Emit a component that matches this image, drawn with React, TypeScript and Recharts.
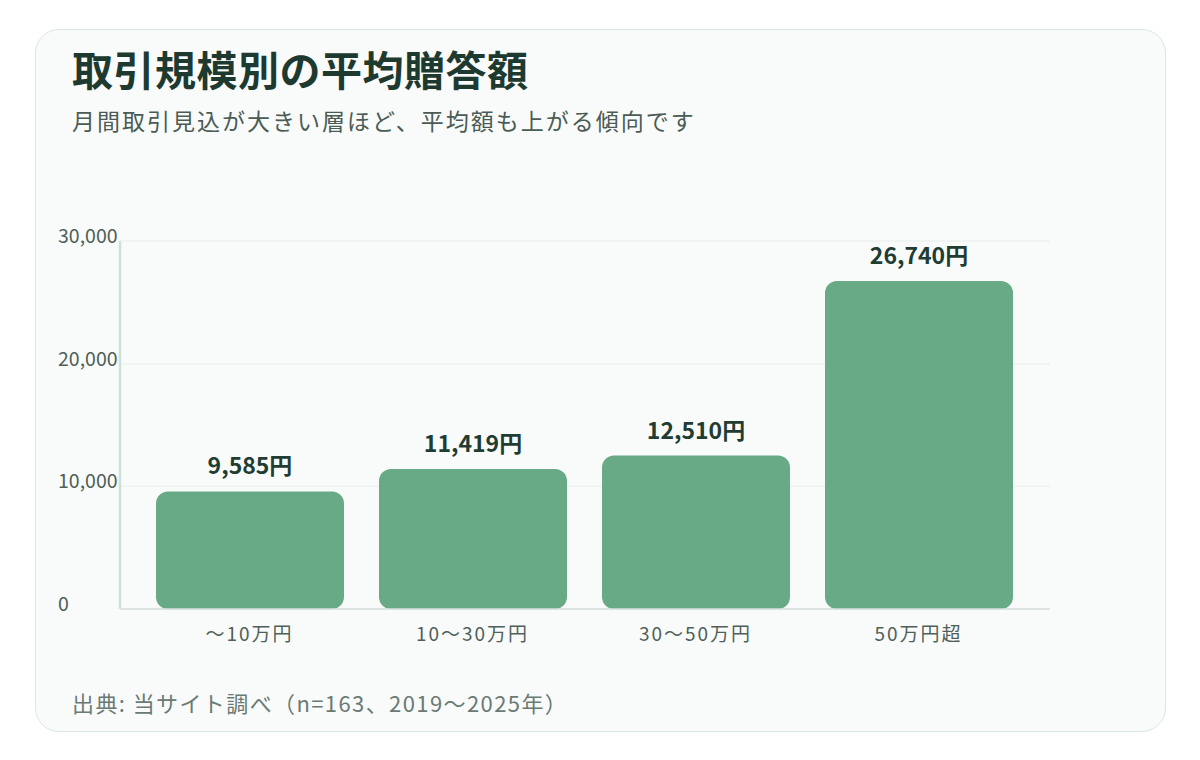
import React from "react";
import { BarChart, Bar, XAxis, YAxis, CartesianGrid, LabelList } from "recharts";

const categories = ["〜10万円", "10〜30万円", "30〜50万円", "50万円超"];
const averageGift = [9585, 11419, 12510, 26740];
const yTicks = [0, 10000, 20000, 30000];

const data = categories.map((c, i) => ({ name: c, value: averageGift[i] }));

const FONT = '"Noto Sans CJK JP", "Noto Sans", sans-serif';

const YTick = (props: any) => {
  const { y, payload } = props;
  return (
    <text x={58} y={y + 2} textAnchor="start" fill="#4f5f59" fontSize={19.5} fontFamily={FONT}>
      {payload.value.toLocaleString("en-US")}
    </text>
  );
};

const XTick = (props: any) => {
  const { x, y, payload } = props;
  return (
    <text x={x} y={y + 16} textAnchor="middle" fill="#4f5f59" fontSize={19} letterSpacing={2} fontFamily={FONT}>
      {payload.value}
    </text>
  );
};

export default function App() {
  return (
    <div style={{ position: "absolute", left: 0, top: 0, width: 1200, height: 760, background: "#ffffff", fontFamily: FONT }}>
      <div
        style={{
          position: "absolute",
          left: 35,
          top: 29,
          width: 1129,
          height: 701,
          border: "1.5px solid #dce6e2",
          borderRadius: 24,
          background: "#f9fbfa",
        }}
      />
      <div style={{ position: "absolute", left: 72, top: 45, fontSize: 41, lineHeight: "46px", fontWeight: 700, color: "#1e3a30", letterSpacing: 0.5 }}>
        取引規模別の平均贈答額
      </div>
      <div style={{ position: "absolute", left: 72, top: 106, fontSize: 23, lineHeight: "28px", color: "#4b5b55", letterSpacing: 2 }}>
        月間取引見込が大きい層ほど、平均額も上がる傾向です
      </div>
      <div style={{ position: "absolute", left: 72, top: 688, fontSize: 22, lineHeight: "28px", color: "#6a7a74", letterSpacing: 1.4 }}>
        出典: 当サイト調べ（n=163、2019〜2025年）
      </div>
      <div style={{ position: "absolute", left: 0, top: 0 }}>
        <BarChart
          width={1200}
          height={760}
          data={data}
          margin={{ top: 241, right: 150, bottom: 121, left: 58 }}
        >
          <CartesianGrid vertical={false} stroke="#edf2f0" strokeWidth={1.5} />
          <XAxis
            dataKey="name"
            height={30}
            axisLine={{ stroke: "#d6e0dc", strokeWidth: 1.5 }}
            tickLine={false}
            tickMargin={10}
            padding={{ left: 18, right: 20 }}
            tick={<XTick />}
          />
          <YAxis
            width={62}
            domain={[0, 30000]}
            ticks={yTicks}
            axisLine={{ stroke: "#cfe0d8", strokeWidth: 2.5 }}
            tickLine={false}
            tick={<YTick />}
          />
          <Bar dataKey="value" fill="#68a986" barSize={188} radius={12} isAnimationActive={false}>
            <LabelList
              dataKey="value"
              position="top"
              offset={17}
              formatter={(v: any) => `${Number(v).toLocaleString("en-US")}円`}
              style={{ fill: "#1f3d33", fontSize: 23, fontWeight: 700, fontFamily: FONT }}
            />
          </Bar>
        </BarChart>
      </div>
    </div>
  );
}
